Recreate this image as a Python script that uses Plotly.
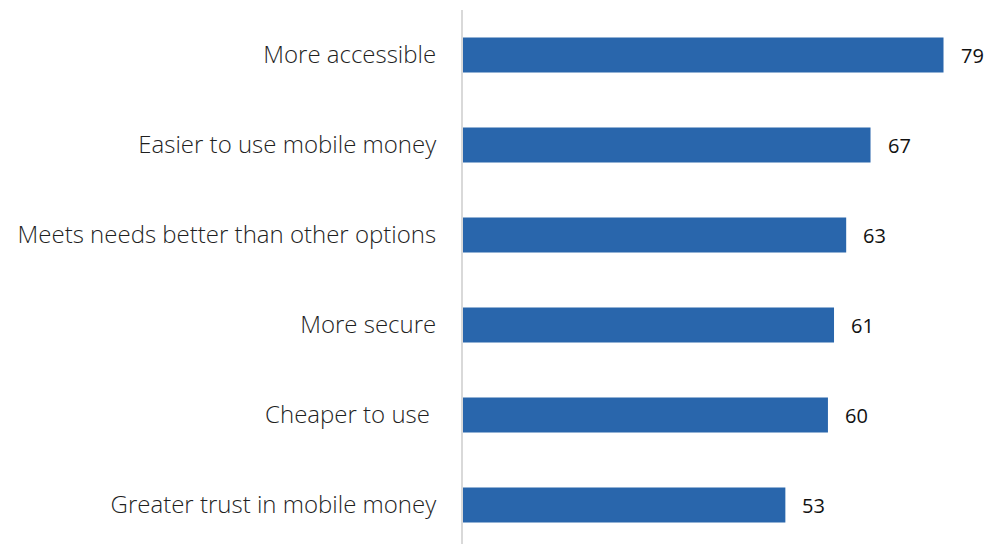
import plotly.graph_objects as go

categories = [
    "Greater trust in mobile money",
    "Cheaper to use ",
    "More secure",
    "Meets needs better than other options",
    "Easier to use mobile money",
    "More accessible",
]
values = [53, 60, 61, 63, 67, 79]

BAR_COLOR = "#2966AC"

fig = go.Figure(
    go.Bar(
        x=values,
        y=categories,
        orientation="h",
        width=0.39,
        marker=dict(color=BAR_COLOR, line=dict(width=0)),
        hoverinfo="x+y",
    )
)

for cat, v in zip(categories, values):
    fig.add_annotation(
        x=v, y=cat, text=str(v), showarrow=False,
        xanchor="left", xshift=15,
        font=dict(family="Open Sans", size=20, color="#111111"),
    )

fig.update_layout(
    width=990,
    height=544,
    margin=dict(l=463, r=10, t=10, b=0, pad=0),
    plot_bgcolor="white",
    paper_bgcolor="white",
    showlegend=False,
)
fig.update_xaxes(
    range=[0, 85], visible=False, showgrid=False, zeroline=False,
)
fig.update_yaxes(
    type="category",
    categoryorder="array",
    categoryarray=categories,
    range=[-0.433, 5.5],
    showline=True, linecolor="#d9d9d9", linewidth=2,
    showgrid=False, zeroline=False, ticks="",
    ticklabelstandoff=20,
    tickfont=dict(family="Open Sans", size=24, color="#1f1f1f", weight=300),
)

# the page body has a default 8px margin; drop it so the figure sits at 0,0
fig.write_html(
    "out.html",
    config={"displayModeBar": False},
    post_script="document.body.style.margin='0';document.body.style.overflow='hidden';",
)
